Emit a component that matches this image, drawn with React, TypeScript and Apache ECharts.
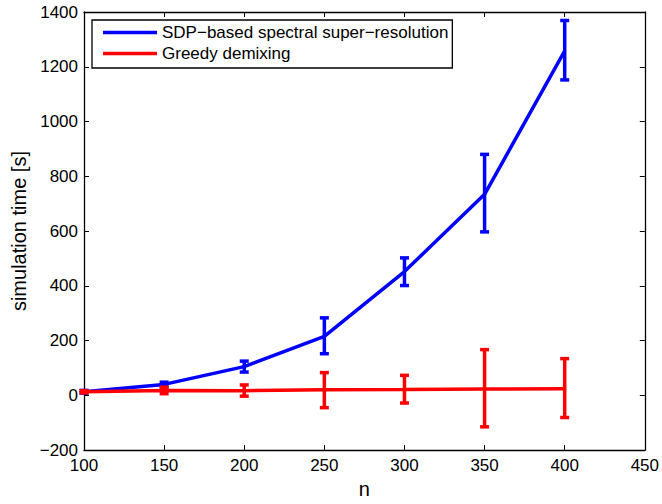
import React, { useEffect, useRef } from "react";
import * as echarts from "echarts";

const nValues = [100, 150, 200, 250, 300, 350, 400];
const sdpMean = [13, 40, 105, 215, 452, 734, 1258];
const sdpLow = [8, 31, 85, 152, 401, 597, 1152];
const sdpHigh = [18, 48, 125, 283, 502, 880, 1369];
const greedyMean = [13, 18, 17, 20, 21, 23, 24];
const greedyLow = [9, 6, -3, -45, -28, -115, -81];
const greedyHigh = [17, 30, 38, 83, 73, 167, 134];
const seriesNames = ["SDP\u2212based spectral super\u2212resolution", "Greedy demixing"];
const xTicks = { min: 100, max: 450, interval: 50 };
const yTicks = { min: -200, max: 1400, interval: 200 };

const FONT = "'Liberation Sans', Arial, Helvetica, sans-serif";
const BLUE = "#0000ff";
const RED = "#ff0000";

function errRender(color: string) {
  return (params: any, api: any) => {
    const x = api.value(0);
    const lo = api.value(1);
    const hi = api.value(2);
    const top = api.coord([x, hi]);
    const bot = api.coord([x, lo]);
    const w = 4.5;
    const style = { stroke: color, lineWidth: 3.5 };
    return {
      type: "group",
      children: [
        { type: "line", shape: { x1: top[0], y1: top[1], x2: bot[0], y2: bot[1] }, style },
        { type: "line", shape: { x1: top[0] - w, y1: top[1], x2: top[0] + w, y2: top[1] }, style },
        { type: "line", shape: { x1: bot[0] - w, y1: bot[1], x2: bot[0] + w, y2: bot[1] }, style },
      ],
    };
  };
}

export default function App() {
  const ref = useRef<HTMLDivElement>(null);
  useEffect(() => {
    if (!ref.current) return;
    const chart = echarts.init(ref.current, undefined, { renderer: "svg" });
    const axisLine = { show: true, onZero: false, lineStyle: { color: "#000", width: 1.3 } };
    const axisTick = { show: true, inside: true, length: 5, lineStyle: { color: "#000" } };
    const fmtY = (v: number) => (v < 0 ? "\u2212" + Math.abs(v) : String(v));
    chart.setOption({
      animation: false,
      backgroundColor: "#fff",
      textStyle: { fontFamily: FONT },
      grid: { left: 84, right: 15, top: 12, bottom: 47, containLabel: false },
      legend: {
        left: 92,
        top: 20,
        orient: "vertical",
        data: seriesNames.map((name) => ({ name, icon: "rect" })),
        itemWidth: 54,
        itemHeight: 3.5,
        itemGap: 4,
        padding: [4, 4, 6, 11],
        backgroundColor: "#fff",
        borderColor: "#000",
        borderWidth: 1.3,
        borderRadius: 0,
        textStyle: { fontFamily: FONT, fontSize: 17, color: "#000", lineHeight: 17 },
      },
      xAxis: [
        {
          type: "value",
          ...xTicks,
          name: "n",
          nameLocation: "middle",
          nameGap: 28,
          nameTextStyle: { fontFamily: FONT, fontSize: 20, color: "#000" },
          axisLine,
          axisTick,
          splitLine: { show: false },
          axisLabel: { fontFamily: FONT, fontSize: 17, color: "#000", margin: 7 },
        },
        {
          type: "value",
          ...xTicks,
          position: "top",
          axisLine,
          axisTick,
          splitLine: { show: false },
          axisLabel: { show: false },
        },
      ],
      yAxis: [
        {
          type: "value",
          ...yTicks,
          name: "simulation time [s]",
          nameLocation: "middle",
          nameGap: 54,
          nameTextStyle: { fontFamily: FONT, fontSize: 20, color: "#000" },
          axisLine,
          axisTick,
          splitLine: { show: false },
          axisLabel: { fontFamily: FONT, fontSize: 17, color: "#000", margin: 6, formatter: fmtY },
        },
        {
          type: "value",
          ...yTicks,
          position: "right",
          axisLine,
          axisTick,
          splitLine: { show: false },
          axisLabel: { show: false },
        },
      ],
      series: [
        {
          name: seriesNames[0],
          type: "line",
          data: nValues.map((n, i) => [n, sdpMean[i]]),
          showSymbol: false,
          lineStyle: { color: BLUE, width: 3.5 },
          itemStyle: { color: BLUE },
          z: 3,
        },
        {
          name: seriesNames[0] + " err",
          type: "custom",
          data: nValues.map((n, i) => [n, sdpLow[i], sdpHigh[i]]),
          encode: { x: 0, y: [1, 2] },
          renderItem: errRender(BLUE),
          z: 3,
        },
        {
          name: seriesNames[1],
          type: "line",
          data: nValues.map((n, i) => [n, greedyMean[i]]),
          showSymbol: false,
          lineStyle: { color: RED, width: 3.5 },
          itemStyle: { color: RED },
          z: 4,
        },
        {
          name: seriesNames[1] + " err",
          type: "custom",
          data: nValues.map((n, i) => [n, greedyLow[i], greedyHigh[i]]),
          encode: { x: 0, y: [1, 2] },
          renderItem: errRender(RED),
          z: 4,
        },
      ],
    });
    return () => chart.dispose();
  }, []);
  return <div ref={ref} style={{ position: "fixed", left: 0, top: 0, width: 662, height: 504 }} />;
}
